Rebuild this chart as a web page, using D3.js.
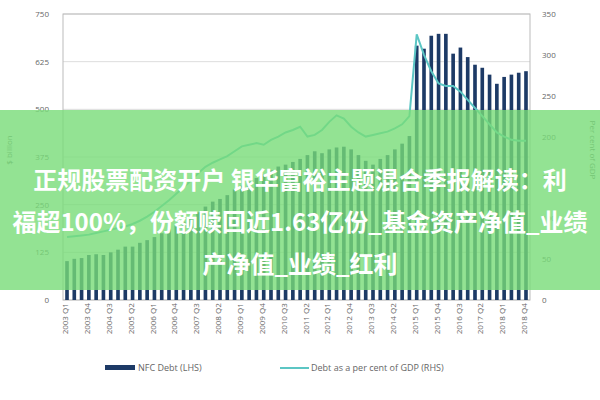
<!DOCTYPE html>
<html><head><meta charset="utf-8">
<script src="https://cdn.jsdelivr.net/npm/d3@7"></script>
<style>body{margin:0;background:#fff}text{font-family:"Open Sans",sans-serif}</style>
</head><body>
<svg id="c" width="600" height="400"></svg>
<script>
//===== Data =====
var years = d3.range(2003, 2019);
var quarters = [];
years.forEach(function(y) { for (var q = 1; q <= 4; q++) quarters.push(y + " Q" + q); });
var nfcDebt = [102,108,110,118,120,118,125,132,140,140,
	150,157,165,175,185,195,205,215,230,245,
	258,265,275,290,300,310,320,330,340,350,
	355,362,370,380,390,385,395,400,402,395,
	380,365,355,370,380,395,410,430,
	667,659,693,698,698,646,662,637,617,609,591,567,585,591,596,600];
var debtGdp = [77,78,79,80,82,84,86,88,90,93,
	97,102,108,115,122,130,138,146,155,163,
	168,172,176,182,188,190,192,190,196,200,
	205,208,212,200,202,208,218,226,222,212,
	205,200,202,204,206,210,215,225,
	325,300,280,265,262,262,255,245,235,225,215,205,200,196,195,195];
var leftTicks = [0,125,250,375,500,625,750];
var rightTicks = [0,50,100,150,200,250,300,350];
var bannerLines = ["正规股票配资开户  银华富裕主题混合季报解读：利",
	"福超100%，份额赎回近1.63亿份_基金资产净值_业绩",
	"产净值_业绩_红利"];

//===== Chart =====
var svg = d3.select("#c");
var m = {l: 63, r: 530, t: 14, b: 300};
var x = d3.scaleBand().domain(quarters).range([m.l, m.r]).paddingInner(0.5).paddingOuter(0.3);
var yL = d3.scaleLinear().domain([0, 750]).range([m.b, m.t]);
var yR = d3.scaleLinear().domain([0, 350]).range([m.b, m.t]);

// grid
svg.append("g").selectAll("line").data(leftTicks).enter().append("line")
	.attr("x1", m.l).attr("x2", m.r)
	.attr("y1", function(d) { return yL(d); }).attr("y2", function(d) { return yL(d); })
	.attr("stroke", "#ddd");
svg.append("rect").attr("x", m.l).attr("y", m.t).attr("width", m.r - m.l).attr("height", m.b - m.t)
	.attr("fill", "none").attr("stroke", "#bbb");

var gl = svg.append("g").attr("transform", "translate(" + m.l + ",0)")
	.call(d3.axisLeft(yL).tickValues(leftTicks).tickSize(0).tickPadding(14));
var gr = svg.append("g").attr("transform", "translate(" + m.r + ",0)")
	.call(d3.axisRight(yR).tickValues(rightTicks).tickSize(0).tickPadding(12));
var gx = svg.append("g").attr("transform", "translate(0," + m.b + ")")
	.call(d3.axisBottom(x).tickValues(quarters.filter(function(d, i) { return i % 3 == 0; })).tickSize(0).tickPadding(4));
gx.selectAll("text").attr("transform", "rotate(-90)").attr("text-anchor", "end")
	.attr("dx", "-0.4em").attr("dy", "-0.35em");
[gl, gr, gx].forEach(function(g) {
	g.select(".domain").remove();
	g.selectAll("text").attr("fill", "#666").style("font-size", "8px");
});

svg.append("text").attr("transform", "translate(12,150) rotate(-90)").attr("text-anchor", "middle")
	.attr("fill", "#666").style("font-size", "8px").text("$ billion");
svg.append("text").attr("transform", "translate(590,150) rotate(90)").attr("text-anchor", "middle")
	.attr("fill", "#666").style("font-size", "8px").text("Per cent of GDP");

svg.append("g").selectAll("rect").data(nfcDebt).enter().append("rect")
	.attr("x", function(d, i) { return x(quarters[i]); })
	.attr("width", x.bandwidth())
	.attr("y", function(d) { return yL(d); })
	.attr("height", function(d) { return yL(0) - yL(d); })
	.attr("fill", "#1d3a66");

var line = d3.line().x(function(d, i) { return x(quarters[i]) + x.bandwidth() / 2; })
	.y(function(d) { return yR(d); });
svg.append("path").datum(debtGdp).attr("d", line).attr("fill", "none")
	.attr("stroke", "#5cc6c4").attr("stroke-width", 2);

// legend
svg.append("rect").attr("x", 105).attr("y", 365).attr("width", 30).attr("height", 5).attr("fill", "#1d3a66");
svg.append("text").attr("x", 138).attr("y", 371).attr("fill", "#666").style("font-size", "9px").text("NFC Debt (LHS)");
svg.append("line").attr("x1", 280).attr("x2", 309).attr("y1", 368).attr("y2", 368).attr("stroke", "#5cc6c4").attr("stroke-width", 2);
svg.append("text").attr("x", 311).attr("y", 371).attr("fill", "#666").style("font-size", "9px").text("Debt as a per cent of GDP (RHS)");

// banner overlay
svg.append("rect").attr("x", 0).attr("y", 110).attr("width", 600).attr("height", 180)
	.attr("fill", "rgb(120,220,120)").attr("opacity", 0.8);
svg.append("g").selectAll("text").data(bannerLines).enter().append("text")
	.attr("x", 300).attr("y", function(d, i) { return 189 + i * 42; })
	.attr("text-anchor", "middle").attr("fill", "#fff").attr("font-weight", "bold")
	.style("font-family", "'Noto Sans CJK SC'").style("font-size", "24px")
	.text(function(d) { return d; });
</script>
</body></html>
